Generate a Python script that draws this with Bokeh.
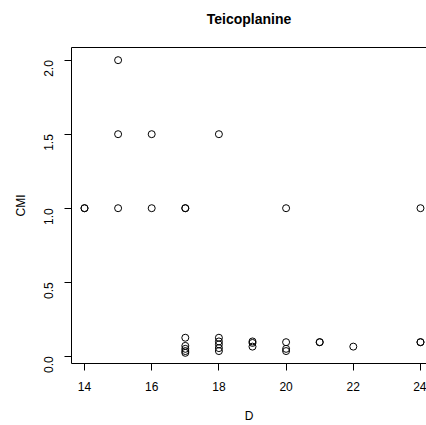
import math
from bokeh.plotting import figure
from bokeh.models import Range1d, FixedTicker, LinearAxis, PrintfTickFormatter, ColumnDataSource
from bokeh.embed import file_html
from bokeh.resources import INLINE

# Data
D = [14, 14,
     15, 15, 15,
     16, 16,
     17, 17, 17, 17, 17, 17, 17,
     18, 18, 18, 18, 18, 18,
     19, 19, 19,
     20, 20, 20, 20,
     21, 21,
     22,
     24, 24, 24]
CMI = [1.0, 1.0,
       2.0, 1.5, 1.0,
       1.5, 1.0,
       1.0, 1.0, 0.125, 0.07, 0.05, 0.035, 0.023,
       1.5, 0.125, 0.1, 0.08, 0.055, 0.035,
       0.1, 0.09, 0.065,
       1.0, 0.095, 0.05, 0.035,
       0.095, 0.095,
       0.065,
       1.0, 0.095, 0.095]
x_ticks = [14, 16, 18, 20, 22, 24]
y_ticks = [0.0, 0.5, 1.0, 1.5, 2.0]
title_text = "Teicoplanine"
x_label = "D"
y_label = "CMI"

FONT = "Liberation Sans"

p = figure(width=426, height=425, output_backend="svg", toolbar_location=None,
           x_range=Range1d(13.613, 24.179), y_range=Range1d(-0.049, 2.0855),
           min_border_left=71, min_border_right=0, min_border_top=47, min_border_bottom=61)
p.outline_line_color = None
p.grid.grid_line_color = None
p.background_fill_color = "white"
p.border_fill_color = "white"

src = ColumnDataSource(dict(x=D, y=CMI))
p.scatter("x", "y", source=src, size=7, marker="circle", fill_color=None,
          line_color="black", line_width=1)

xa = p.xaxis[0]
ya = p.yaxis[0]
xa.axis_label = x_label
ya.axis_label = y_label
for ax in (xa, ya):
    ax.axis_line_color = "black"
    ax.major_tick_line_color = "black"
    ax.major_tick_out = 7
    ax.major_tick_in = 0
    ax.minor_tick_line_color = None
    ax.major_label_text_font = FONT
    ax.major_label_text_font_size = "12px"
    ax.major_label_text_color = "black"
    ax.axis_label_text_font = FONT
    ax.axis_label_text_font_size = "12px"
    ax.axis_label_text_font_style = "normal"
    ax.axis_label_text_color = "black"

xa.ticker = FixedTicker(ticks=x_ticks)
ya.ticker = FixedTicker(ticks=y_ticks)
ya.formatter = PrintfTickFormatter(format="%.1f")
ya.major_label_orientation = math.pi / 2
xa.major_label_standoff = 11
ya.major_label_standoff = 16
xa.axis_label_standoff = 15
ya.axis_label_standoff = 9

top = LinearAxis(major_tick_line_color=None, minor_tick_line_color=None,
                 major_label_text_font_size="0px", major_label_standoff=0,
                 axis_line_color="black", ticker=FixedTicker(ticks=[]),
                 axis_label=title_text, axis_label_text_font=FONT,
                 axis_label_text_font_size="14px", axis_label_text_font_style="bold",
                 axis_label_text_color="black", axis_label_standoff=21)
p.add_layout(top, "above")

open("out.html", "w").write(file_html(p, INLINE))
